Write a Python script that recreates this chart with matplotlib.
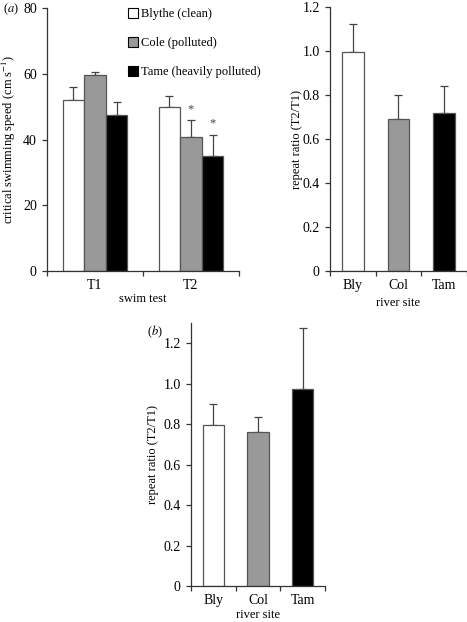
import matplotlib
matplotlib.use("Agg")
import matplotlib.pyplot as plt
import numpy as np
from matplotlib.patches import Patch
from matplotlib.ticker import FuncFormatter

plt.rcParams.update({"font.family": ["Liberation Serif", "DejaVu Serif"], "font.size": 9,
                     "mathtext.fontset": "stix"})

# panel (a), left: critical swimming speed
tests = ["T1", "T2"]
sites = ["Blythe (clean)", "Cole (polluted)", "Tame (heavily polluted)"]
speed = {"Blythe (clean)": [52.0, 50.0],
         "Cole (polluted)": [59.5, 40.8],
         "Tame (heavily polluted)": [47.5, 35.0]}
speed_err = {"Blythe (clean)": [4.0, 3.3],
             "Cole (polluted)": [1.0, 5.2],
             "Tame (heavily polluted)": [3.8, 6.5]}
signif = {"Cole (polluted)": [False, True],
          "Tame (heavily polluted)": [False, True]}

# panel (a), right and panel (b): repeat ratios
short_sites = ["Bly", "Col", "Tam"]
ratio_a = [0.995, 0.69, 0.72]
ratio_a_err = [0.13, 0.11, 0.12]
ratio_b = [0.795, 0.76, 0.975]
ratio_b_err = [0.105, 0.075, 0.30]

colours = ["white", "#999999", "black"]
edge = "#555555"
err_col = "#444444"


def style_axes(ax):
    ax.spines["top"].set_visible(False)
    ax.spines["right"].set_visible(False)
    for s in ("left", "bottom"):
        ax.spines[s].set_color("#333333")
        ax.spines[s].set_linewidth(0.9)
    ax.tick_params(axis="y", direction="out", length=3.8, width=0.9, color="#333333",
                   pad=3.5, labelsize=10)
    ax.tick_params(axis="x", which="major", length=0, pad=5.5, labelsize=10)
    ax.tick_params(axis="x", which="minor", direction="out", length=3.8, width=0.9,
                   color="#333333")


def ratio_fmt(v, pos):
    return "0" if abs(v) < 1e-9 else f"{v:.1f}"


def ratio_panel(ax, vals, errs, ymax, ylab_x, xlab_y):
    x = np.arange(len(short_sites)) + 0.5
    ax.bar(x, vals, width=0.48, color=colours, edgecolor=edge, linewidth=0.9, zorder=2)
    ax.errorbar(x, vals, yerr=[np.zeros(len(vals)), errs], fmt="none",
                ecolor=err_col, elinewidth=0.9, capsize=3, capthick=0.9, zorder=1)
    ax.set_xlim(0, len(short_sites))
    ax.set_ylim(0, ymax)
    ax.set_yticks(np.arange(0, 1.21, 0.2))
    ax.yaxis.set_major_formatter(FuncFormatter(ratio_fmt))
    ax.set_xticks(x)
    ax.set_xticklabels(short_sites)
    ax.set_xticks(np.arange(0, len(short_sites) + 1), minor=True)
    ax.set_xlabel("river site")
    ax.set_ylabel("repeat ratio (T2/T1)")
    ax.yaxis.set_label_coords(ylab_x, 0.5)
    ax.xaxis.set_label_coords(0.5, xlab_y)
    style_axes(ax)


fig = plt.figure(figsize=(4.67, 6.22), dpi=100)

# (a) left
ax1 = fig.add_axes([0.1006, 0.5643, 0.411, 0.4228])
w = 0.225
xg = np.arange(len(tests)) + 0.5
for i, s in enumerate(sites):
    xs = xg + (i - 1) * w
    ax1.bar(xs, speed[s], width=w, color=colours[i], edgecolor=edge, linewidth=0.9,
            zorder=2, label=s)
    ax1.errorbar(xs, speed[s], yerr=[np.zeros(len(tests)), speed_err[s]], fmt="none",
                 ecolor=err_col, elinewidth=0.9, capsize=3, capthick=0.9, zorder=1)
    for j, flag in enumerate(signif.get(s, [])):
        if flag:
            ax1.text(xs[j], speed[s][j] + speed_err[s][j] + 1.5, "*", ha="center",
                     va="bottom", fontsize=9, color="#444444")
ax1.set_xlim(0, len(tests))
ax1.set_ylim(0, 80)
ax1.set_yticks(np.arange(0, 81, 20))
ax1.set_xticks(xg)
ax1.set_xticklabels(tests)
ax1.set_xticks(np.arange(0, len(tests) + 1), minor=True)
ax1.set_xlabel("swim test")
ax1.set_ylabel("critical swimming speed (cm s$^{-1}$)")
ax1.yaxis.set_label_coords(-0.15, 0.5)
ax1.xaxis.set_label_coords(0.5, -0.085)
style_axes(ax1)
handles = [Patch(facecolor=c, edgecolor="black", linewidth=0.8) for c in colours]
ax1.legend(handles, sites, loc="upper left", bbox_to_anchor=(0.42, 1.0), frameon=False,
           handlelength=0.8, handleheight=0.8, handletextpad=0.3, labelspacing=1.35,
           borderpad=0, borderaxespad=0, fontsize=9)
fig.text(3 / 467, 1 - 9 / 622, "($a$)", ha="left", va="center", fontsize=9)

# (a) right
ax2 = fig.add_axes([0.7066, 0.5643, 0.2934, 0.4244])
ratio_panel(ax2, ratio_a, ratio_a_err, 1.2, -0.197, -0.1)

# (b)
ax3 = fig.add_axes([0.409, 0.0579, 0.287, 0.4228])
ratio_panel(ax3, ratio_b, ratio_b_err, 1.3, -0.239, -0.088)
fig.text(147 / 467, 1 - 332 / 622, "($b$)", ha="left", va="center", fontsize=9)

fig.savefig("out.png", dpi=100)
